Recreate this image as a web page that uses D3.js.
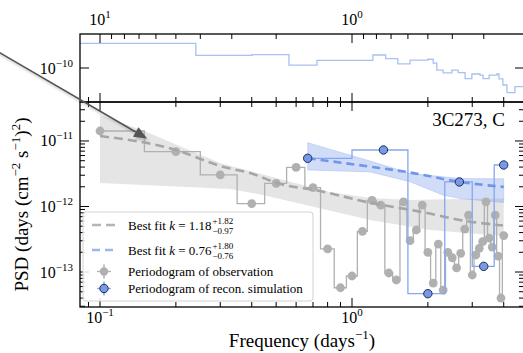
<!DOCTYPE html>
<html>
<head>
<meta charset="utf-8">
<script src="https://cdn.jsdelivr.net/npm/d3@7"></script>
<style>
body { margin: 0; background: #fff; }
svg { display: block; font-family: "Liberation Serif", "Times New Roman", serif; }
</style>
</head>
<body>
<svg id="chart" width="523" height="353"></svg>
<script>
// ---- data ----
// periodogram of the observation (frequency in days^-1, PSD)
const obsFreq = [0.1, 0.2, 0.3, 0.4, 0.5, 0.6, 0.7, 0.8, 0.9, 1.0,
                 1.1, 1.2, 1.3, 1.4, 1.5, 1.6, 1.7, 1.8, 1.9, 2.0,
                 2.1, 2.2, 2.3, 2.4, 2.5, 2.6, 2.7, 2.8, 2.9, 3.0,
                 3.1, 3.2, 3.3, 3.4, 3.5, 3.6, 3.7, 3.8, 3.9, 4.0];
const obsPsd = [1.42e-11, 6.87e-12, 3.03e-12, 1.11e-12, 2.26e-12, 3.96e-12, 1.94e-12, 2.25e-13, 5.75e-14, 8.69e-14,
                4.18e-13, 1.24e-12, 1.05e-12, 9.66e-14, 7.55e-14, 1.18e-12, 3.01e-13, 4.38e-13, 1.05e-12, 2.0e-13,
                6.79e-14, 2.67e-13, 5.31e-14, 2.0e-13, 1.65e-13, 1.16e-13, 1.93e-13, 4.53e-13, 7.41e-13, 9.0e-14,
                1.82e-13, 2.30e-13, 2.9e-13, 1.18e-12, 3.3e-13, 2.4e-13, 7.41e-13, 1.75e-13, 4.01e-14, 3.6e-13];

// periodogram of the reconstructed simulation
const simFreq = [0.667, 1.333, 2.0, 2.667, 3.333, 4.0];
const simPsd = [5.44e-12, 7.29e-12, 4.67e-14, 2.37e-12, 1.22e-13, 4.3e-12];

// best fit curves and their bands
const fitObsFreq = [0.1, 0.2, 0.3, 0.405, 0.504, 0.746, 1.147, 1.985, 2.68, 3.97];
const fitObsPsd = [1.19e-11, 7.3e-12, 4.15e-12, 3.13e-12, 2.28e-12, 1.72e-12, 1.17e-12, 7.96e-13, 6.22e-13, 5.13e-13];
const bandObsUpFreq = [0.1, 0.15, 0.2, 0.3, 0.552, 0.818, 1.179, 1.699, 2.68, 4.0];
const bandObsUp = [2.49e-11, 1.42e-11, 8.85e-12, 4.61e-12, 2.45e-12, 1.66e-12, 1.35e-12, 1.26e-12, 1.30e-12, 1.32e-12];
const bandObsLoFreq = [0.1, 0.328, 0.443, 1.179, 2.04, 4.0];
const bandObsLo = [2.29e-12, 1.85e-12, 1.50e-12, 6.22e-13, 4.38e-13, 3.55e-13];

const fitSimFreq = [0.667, 1.18, 1.70, 2.68, 4.0];
const fitSimPsd = [5.44e-12, 4.06e-12, 3.30e-12, 2.37e-12, 1.99e-12];
const bandSimUpFreq = [0.667, 1.179, 1.699, 2.68, 4.0];
const bandSimUp = [9.42e-12, 4.95e-12, 3.21e-12, 2.67e-12, 2.65e-12];
const bandSimLoFreq = [0.667, 1.179, 1.699, 2.29, 2.68, 4.0];
const bandSimLo = [3.61e-12, 3.37e-12, 2.39e-12, 1.50e-12, 1.32e-12, 1.15e-12];

// upper panel: step curve (left edge of each step in frequency, value)
const topEdge = [0.0833, 0.240, 0.401, 0.562, 0.726, 1.21, 1.36, 1.52, 1.70, 2.00, 2.10, 2.17, 2.30,
                 2.49, 2.64, 2.81, 2.99, 3.22, 3.31, 3.50, 3.76, 3.83, 3.97, 4.12, 4.43, 4.81];
const topVal = [2.38e-10, 1.56e-10, 1.6e-10, 1.11e-10, 1.31e-10, 1.58e-10, 1.39e-10, 1.16e-10, 1.32e-10,
                1.36e-10, 1.19e-10, 9.3e-11, 8.4e-11, 9.3e-11, 8.5e-11, 6.9e-11, 8.1e-11, 7.8e-11, 6.9e-11,
                7.8e-11, 8.1e-11, 6.8e-11, 5.5e-11, 4.2e-11, 5.2e-11, 5.2e-11];

const legendLabels = ["Best fit", "Best fit", "Periodogram of observation", "Periodogram of recon. simulation"];
const fitK = [["1.18", "+1.82", "\u22120.97"], ["0.76", "+1.80", "\u22120.76"]];
const sourceName = "3C273, C";

// ---- layout ----
const L = 80, R = 524, topT = 34, topB = 102, mainT = 102, mainB = 307;
const svg = d3.select("#chart");

const x = d3.scaleLog().domain([0.08328, 4.814]).range([L, R]);
const y = d3.scaleLog().domain([Math.pow(10, -13.534), Math.pow(10, -10.405)]).range([mainB, mainT]);
const yTop = d3.scaleLog().domain([Math.pow(10, -10.519), Math.pow(10, -9.481)]).range([topB, topT]);

const gray = "#b0b0b0", blue = "#7096ea";

svg.append("clipPath").attr("id", "clipMain").append("rect")
    .attr("x", L).attr("y", mainT).attr("width", R - L).attr("height", mainB - mainT);
svg.append("clipPath").attr("id", "clipTop").append("rect")
    .attr("x", L).attr("y", topT).attr("width", R - L).attr("height", topB - topT);

// ---- upper panel ----
const topLine = d3.line().x(d => x(d[0])).y(d => yTop(d[1])).curve(d3.curveStepAfter);
svg.append("path")
    .attr("clip-path", "url(#clipTop)")
    .attr("d", topLine(topEdge.map((f, i) => [f, topVal[i]])))
    .attr("fill", "none").attr("stroke", "#a9c0f2").attr("stroke-width", 1.3);

// ---- main panel ----
const plot = svg.append("g").attr("clip-path", "url(#clipMain)");
const line = d3.line().x(d => x(d[0])).y(d => y(d[1]));

function band(upF, up, loF, lo) {
    const pts = upF.map((f, i) => [f, up[i]]);
    for (let i = loF.length - 1; i >= 0; i--) pts.push([loF[i], lo[i]]);
    return line(pts) + "Z";
}
function stepsMid(fs, vs) {
    const out = [];
    fs.forEach((f, i) => {
        const a = i === 0 ? f : (fs[i - 1] + f) / 2;
        const b = i === fs.length - 1 ? f : (f + fs[i + 1]) / 2;
        out.push([a, vs[i]], [b, vs[i]]);
    });
    return out;
}

plot.append("path").attr("d", band(bandObsUpFreq, bandObsUp, bandObsLoFreq, bandObsLo))
    .attr("fill", "#8a8a8a").attr("fill-opacity", 0.22);
plot.append("path").attr("d", band(bandSimUpFreq, bandSimUp, bandSimLoFreq, bandSimLo))
    .attr("fill", blue).attr("fill-opacity", 0.32)
    .attr("stroke", blue).attr("stroke-opacity", 0.35).attr("stroke-width", 0.8);

// observation periodogram
plot.append("path").attr("d", line(stepsMid(obsFreq, obsPsd)))
    .attr("fill", "none").attr("stroke", gray).attr("stroke-width", 1.3);
plot.selectAll(".obs").data(obsFreq).enter().append("circle")
    .attr("cx", d => x(d)).attr("cy", (d, i) => y(obsPsd[i])).attr("r", 4.4)
    .attr("fill", gray);

// best fit of observation
const smooth = d3.line().x(d => x(d[0])).y(d => y(d[1])).curve(d3.curveMonotoneX);
plot.append("path").attr("d", smooth(fitObsFreq.map((f, i) => [f, fitObsPsd[i]])))
    .attr("fill", "none").attr("stroke", "#a6a6a6").attr("stroke-width", 2.6)
    .attr("stroke-dasharray", "9,5");

// simulation periodogram
plot.append("path").attr("d", line(stepsMid(simFreq, simPsd)))
    .attr("fill", "none").attr("stroke", "#86a6ee").attr("stroke-width", 1.3);
plot.append("path").attr("d", smooth(fitSimFreq.map((f, i) => [f, fitSimPsd[i]])))
    .attr("fill", "none").attr("stroke", blue).attr("stroke-width", 2.6)
    .attr("stroke-dasharray", "8,5");
plot.selectAll(".sim").data(simFreq).enter().append("circle")
    .attr("cx", d => x(d)).attr("cy", (d, i) => y(simPsd[i])).attr("r", 4.2)
    .attr("fill", "#7799e6").attr("stroke", "#1d2b5a").attr("stroke-width", 1);

// ---- frames and ticks ----
const axes = svg.append("g").attr("stroke", "#000").attr("fill", "none");
axes.append("rect").attr("x", L).attr("y", topT).attr("width", R - L).attr("height", topB - topT)
    .attr("stroke-width", 1.3);
axes.append("rect").attr("x", L).attr("y", mainT).attr("width", R - L).attr("height", mainB - mainT)
    .attr("stroke-width", 1.3);

function logTicks(lo, hi) {
    const t = [];
    for (let d = Math.floor(Math.log10(lo)) - 1; d <= Math.ceil(Math.log10(hi)); d++) {
        for (let m = 1; m <= 9; m++) {
            const v = m * Math.pow(10, d);
            if (v >= lo && v <= hi) t.push({ v: v, major: m === 1 });
        }
    }
    return t;
}
const majLen = 9, minLen = 5;

// frequency ticks (bottom of main, top of main, bottom of upper panel)
logTicks(x.domain()[0], x.domain()[1]).forEach(t => {
    const px = x(t.v), len = t.major ? majLen : minLen;
    axes.append("line").attr("x1", px).attr("x2", px).attr("y1", mainB).attr("y2", mainB - len);
    axes.append("line").attr("x1", px).attr("x2", px).attr("y1", mainT).attr("y2", mainT + len);
    axes.append("line").attr("x1", px).attr("x2", px).attr("y1", topB).attr("y2", topB - len);
});
// period ticks on top of upper panel
logTicks(1 / x.domain()[1], 1 / x.domain()[0]).forEach(t => {
    const px = x(1 / t.v), len = t.major ? majLen : minLen;
    axes.append("line").attr("x1", px).attr("x2", px).attr("y1", topT).attr("y2", topT + len);
});
// PSD ticks, both sides
logTicks(y.domain()[0], y.domain()[1]).forEach(t => {
    const py = y(t.v), len = t.major ? majLen : minLen;
    axes.append("line").attr("x1", L).attr("x2", L + len).attr("y1", py).attr("y2", py);
    axes.append("line").attr("x1", R).attr("x2", R - len).attr("y1", py).attr("y2", py);
});
logTicks(yTop.domain()[0], yTop.domain()[1]).filter(t => t.major).forEach(t => {
    const py = yTop(t.v);
    axes.append("line").attr("x1", L).attr("x2", L + majLen).attr("y1", py).attr("y2", py);
    axes.append("line").attr("x1", R).attr("x2", R - majLen).attr("y1", py).attr("y2", py);
});

// tick labels
function powLabel(px, py, exp, anchor) {
    const t = svg.append("text").attr("x", px).attr("y", py)
        .attr("text-anchor", anchor).attr("font-size", 16).attr("fill", "#000");
    t.append("tspan").text("10");
    t.append("tspan").attr("dy", -7).attr("font-size", 11).text(String(exp).replace("-", "\u2212"));
    return t;
}
[-11, -12, -13].forEach(e => powLabel(73, y(Math.pow(10, e)) + 5.5, e, "end"));
powLabel(73, yTop(1e-10) + 5.5, -10, "end");
[-1, 0].forEach(e => powLabel(x(Math.pow(10, e)), 323, e, "middle"));
[1, 0].forEach(e => powLabel(x(1 / Math.pow(10, e)), 25, e, "middle"));

// axis titles
const xt = svg.append("text").attr("x", (L + R) / 2).attr("y", 347)
    .attr("text-anchor", "middle").attr("font-size", 19);
xt.append("tspan").text("Frequency (days");
xt.append("tspan").attr("dy", -8).attr("font-size", 13).text("\u22121");
xt.append("tspan").attr("dy", 8).text(")");

const yt = svg.append("text")
    .attr("transform", `translate(28, ${(mainT + mainB) / 2}) rotate(-90)`)
    .attr("text-anchor", "middle").attr("font-size", 19);
yt.append("tspan").text("PSD (days (cm");
yt.append("tspan").attr("dy", -8).attr("font-size", 13).text("\u22122");
yt.append("tspan").attr("dy", 8).text(" s");
yt.append("tspan").attr("dy", -8).attr("font-size", 13).text("\u22121");
yt.append("tspan").attr("dy", 8).text(")");
yt.append("tspan").attr("dy", -8).attr("font-size", 13).text("2");
yt.append("tspan").attr("dy", 8).text(")");

svg.append("text").attr("x", 505).attr("y", 126).attr("text-anchor", "end")
    .attr("font-size", 19).text(sourceName);

// ---- legend ----
const lg = svg.append("g");
lg.append("rect").attr("x", 83).attr("y", 212).attr("width", 230).attr("height", 89).attr("rx", 3)
    .attr("fill", "#fff").attr("fill-opacity", 0.85).attr("stroke", "#d2d2d2");
const rowY = [225, 250, 271.5, 288.5];
lg.append("line").attr("x1", 92).attr("x2", 117).attr("y1", rowY[0]).attr("y2", rowY[0])
    .attr("stroke", "#b5b5b5").attr("stroke-width", 2.6).attr("stroke-dasharray", "9,5");
lg.append("line").attr("x1", 92).attr("x2", 117).attr("y1", rowY[1]).attr("y2", rowY[1])
    .attr("stroke", "#9db5f0").attr("stroke-width", 2.6).attr("stroke-dasharray", "8,5");
[[gray, gray, null], ["#86a6ee", "#7799e6", "#1d2b5a"]].forEach((c, i) => {
    const cy = rowY[i + 2];
    lg.append("line").attr("x1", 97).attr("x2", 111).attr("y1", cy).attr("y2", cy)
        .attr("stroke", c[0]).attr("stroke-width", 1.3);
    lg.append("line").attr("x1", 104).attr("x2", 104).attr("y1", cy - 7).attr("y2", cy + 7)
        .attr("stroke", c[0]).attr("stroke-width", 1.5);
    lg.append("circle").attr("cx", 104).attr("cy", cy).attr("r", 4.2).attr("fill", c[1])
        .attr("stroke", c[2] || "none").attr("stroke-width", 1);
});
fitK.forEach((k, i) => {
    const t = lg.append("text").attr("x", 128).attr("y", rowY[i] + 4.5).attr("font-size", 13);
    t.append("tspan").text(legendLabels[i] + " ");
    t.append("tspan").attr("font-style", "italic").text("k");
    t.append("tspan").text(" = " + k[0]);
    const w = t.node().getComputedTextLength();
    lg.append("text").attr("x", 128 + w + 1).attr("y", rowY[i] - 1).attr("font-size", 9).text(k[1]);
    lg.append("text").attr("x", 128 + w + 1).attr("y", rowY[i] + 8.5).attr("font-size", 9).text(k[2]);
});
[2, 3].forEach(i => {
    lg.append("text").attr("x", 128).attr("y", rowY[i] + 4.5).attr("font-size", 13).text(legendLabels[i]);
});

// ---- annotation arrow ----
const tip = [x(0.1536), y(1.09e-11)];
const tail = [-10, 47];
const ang = Math.atan2(tip[1] - tail[1], tip[0] - tail[0]);
const hl = 13, hw = 5.5;
const base = [tip[0] - hl * Math.cos(ang), tip[1] - hl * Math.sin(ang)];
const defs = svg.append("defs");
defs.append("filter").attr("id", "blur").append("feGaussianBlur").attr("stdDeviation", 1.2);
function arrow(g, color) {
    g.append("line").attr("x1", tail[0]).attr("y1", tail[1]).attr("x2", base[0]).attr("y2", base[1])
        .attr("stroke", color).attr("stroke-width", 1.6);
    g.append("path").attr("fill", color).attr("d",
        `M${tip[0]},${tip[1]}L${base[0] + hw * Math.sin(ang)},${base[1] - hw * Math.cos(ang)}` +
        `L${base[0] - hw * Math.sin(ang)},${base[1] + hw * Math.cos(ang)}Z`);
}
arrow(svg.append("g").attr("transform", "translate(1.5,2.5)").attr("filter", "url(#blur)").attr("opacity", 0.45), "#888");
arrow(svg.append("g"), "#555");
</script>
</body>
</html>
